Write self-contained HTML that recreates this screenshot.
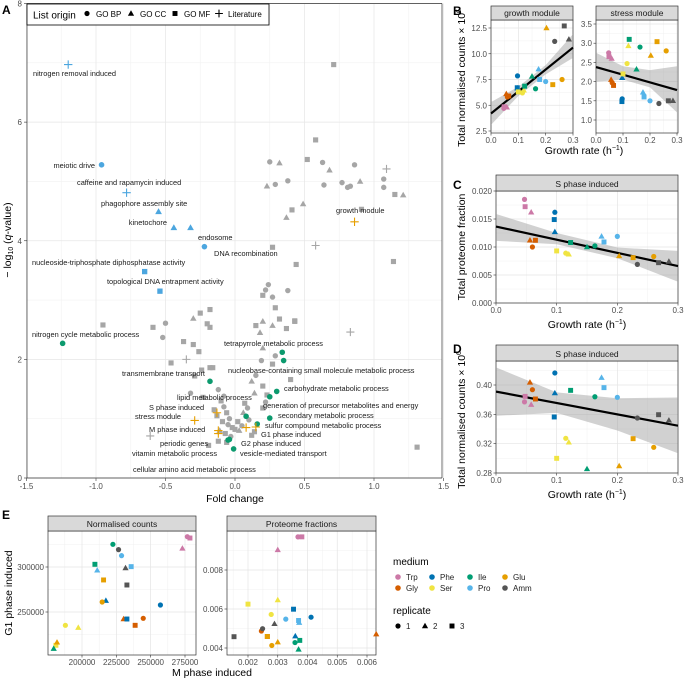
<!DOCTYPE html>
<html><head><meta charset="utf-8">
<style>
html,body{margin:0;padding:0;background:#fff;}
svg{display:block;font-family:"Liberation Sans",sans-serif;}
</style></head>
<body>
<svg id="fig" width="685" height="682" viewBox="0 0 685 682" xmlns="http://www.w3.org/2000/svg">
<text x="2" y="14" font-size="12" font-weight="bold">A</text>
<text x="453" y="15" font-size="12" font-weight="bold">B</text>
<text x="453" y="189" font-size="12" font-weight="bold">C</text>
<text x="453" y="353" font-size="12" font-weight="bold">D</text>
<text x="2" y="519" font-size="12" font-weight="bold">E</text>
<g id="root"></g>
</svg>
<script>
// ---------- Panel A data ----------
const gFC=[0.71,0.58,0.52,0.25,0.32,0.63,0.68,0.86,1.09,0.23,0.29,0.38,0.64,0.77,0.83,0.81,0.90,1.07,1.07,1.15,1.21,0.49,0.41,0.37,0.91,0.58,0.27,0.44,1.14,0.24,0.22,0.20,0.27,0.38,0.29,0.32,0.43,0.20,0.15,0.27,0.83,-0.95,-0.59,-0.50,-0.30,-0.25,-0.18,-0.20,-0.18,-0.52,-0.37,-0.30,-0.26,-0.46,-0.35,-0.29,-0.24,-0.18,-0.16,-0.12,-0.32,-0.23,-0.19,-0.61,0.19,0.29,0.27,0.12,0.15,0.40,0.20,0.14,0.20,0.09,0.07,0.03,0.12,1.31,0.18,0.20,0.37,0.43,-0.10,-0.08,-0.06,-0.04,-0.13,-0.09,-0.05,-0.02,-0.11,-0.07,-0.03,0.00,-0.15,-0.08,0.02,0.05,-0.12,-0.06,0.10,0.14,0.06,0.23,0.22];
const gQ=[6.97,5.70,5.37,5.33,5.31,5.32,5.19,5.28,5.21,4.92,4.95,5.01,4.94,4.98,4.92,4.90,5.00,5.04,4.90,4.78,4.77,4.62,4.52,4.39,4.53,3.92,3.89,3.60,3.65,3.26,3.17,3.08,3.05,3.16,2.87,2.68,2.65,2.64,2.57,2.57,2.46,2.58,2.54,2.61,2.69,2.78,2.84,2.60,2.54,2.37,2.30,2.25,2.13,1.94,2.00,1.72,1.82,1.86,1.86,1.49,1.43,1.36,0.55,0.71,1.98,2.06,1.92,1.63,1.73,1.66,1.55,1.43,1.18,1.18,1.26,0.80,0.72,0.52,2.45,2.19,2.52,2.64,1.30,1.20,1.10,1.00,1.05,0.95,0.90,0.85,0.80,0.75,0.70,0.82,1.15,1.38,0.95,0.88,0.62,0.60,0.98,0.78,1.10,1.40,1.28];
const gShape=["s","s","s","c","t","c","t","c","p","t","c","c","c","c","c","c","t","c","c","s","t","t","s","t","s","p","s","s","s","c","c","s","c","c","s","s","s","t","s","t","p","s","s","c","t","s","s","s","s","c","s","s","s","s","p","s","s","s","s","c","c","s","s","p","c","c","s","t","c","s","s","t","s","c","s","t","s","s","t","t","s","s","s","c","s","c","s","s","c","s","t","s","c","s","s","c","s","c","s","s","c","s","t","s","c"];
const hlNames=["nitrogen  removal  induced","meiotic drive","caffeine  and  rapamycin  induced","phagophore assembly site","kinetochore","endosome","DNA recombination","nucleoside-triphosphate diphosphatase activity","topological DNA entrapment activity","growth  module","nitrogen cycle metabolic process","tetrapyrrole metabolic process","nucleobase-containing small molecule metabolic process","transmembrane transport","carbohydrate metabolic process","generation of precursor metabolites and energy","lipid metabolic process","secondary metabolic process","S  phase  induced","stress  module","sulfur compound metabolic process","M  phase  induced","G1  phase  induced","periodic  genes","G2  phase  induced","vitamin metabolic process","vesicle-mediated transport","cellular amino acid metabolic process"];
const hlFC=[-1.20,-0.96,-0.78,-0.55,-0.44,-0.32,-0.22,-0.65,-0.54,0.86,-1.24,0.34,0.35,-0.18,0.30,0.25,0.08,0.25,-0.13,-0.29,0.16,-0.12,0.15,-0.12,0.08,-0.05,-0.04,-0.01];
const hlQ=[6.97,5.28,4.81,4.49,4.22,4.22,3.90,3.48,3.15,4.32,2.27,2.12,1.98,1.63,1.46,1.37,1.04,1.01,1.10,0.97,0.91,0.80,0.86,0.75,0.85,0.64,0.65,0.49];
const hlShape=["p","c","p","t","t","t","c","s","s","p","c","c","c","c","c","c","c","c","p","p","c","p","p","p","p","c","c","c"];
const hlGroup=["b","b","b","b","b","b","b","b","b","o","g","g","g","g","g","g","g","g","o","o","g","o","o","o","o","g","g","g"];
// label layout (pixels)
const lblX=[33,95,77,101,167,198,214,32,107,336,32,224,228,122,284,263,177,278,149,135,265,149,261,160,241,132,240,133];
const lblY=[76,168,185,206,225,240,256,265,284,213,337,346,373,376,391,408,400,418,410,419,428,432,437,446,446,456,456,472];
const lblAnchor=["start","end","start","start","end","start","start","start","start","start","start","start","start","start","start","start","start","start","start","start","start","start","start","start","start","start","start","start"];

// ---------- Panel B-E data (medium, replicate, growth rate) ----------
const colors={Trp:"#CC79A7",Gly:"#D55E00",Phe:"#0072B2",Ser:"#F0E442",Ile:"#009E73",Pro:"#56B4E9",Glu:"#E69F00",Amm:"#555555"};
const repShape={1:"c",2:"t",3:"s"};
const bMedium=["Trp","Trp","Trp","Gly","Gly","Gly","Phe","Phe","Phe","Ser","Ser","Ser","Ile","Ile","Ile","Pro","Pro","Pro","Glu","Glu","Glu","Amm","Amm","Amm"];
const bRep=[1,2,3,1,2,3,1,2,3,1,2,3,1,2,3,1,2,3,1,2,3,1,2,3];
const growthRate=[0.047,0.058,0.048,0.060,0.056,0.065,0.097,0.097,0.096,0.115,0.120,0.100,0.163,0.150,0.123,0.200,0.174,0.178,0.260,0.203,0.226,0.233,0.285,0.268];
const growthCounts=[4.7,4.8,4.85,5.8,6.1,5.9,7.85,6.65,6.7,6.2,6.45,6.3,6.6,7.8,6.85,7.3,8.5,7.5,7.5,12.5,7.0,11.2,11.4,12.7];
const stressCounts=[2.75,2.6,2.65,1.97,2.05,1.9,1.55,2.1,1.48,2.47,2.93,2.2,2.9,2.32,3.1,1.5,1.72,1.6,2.8,2.68,3.04,1.43,1.5,1.5];
const sPhaseFraction=[0.0185,0.0162,0.0172,0.0100,0.0112,0.0112,0.0162,0.0127,0.0149,0.0089,0.0087,0.0093,0.0102,0.0100,0.0108,0.0119,0.0119,0.0109,0.0083,0.0084,0.0081,0.0069,0.0074,0.0072];
const sPhaseCounts=[0.377,0.3732,0.3845,0.3936,0.4036,0.3809,0.4164,0.389,0.3564,0.3273,0.3218,0.300,0.384,0.2855,0.3927,0.3832,0.410,0.3964,0.315,0.2895,0.3268,0.355,0.3518,0.3595];
const mPhaseCounts=[276700,273100,278600,244600,230300,238700,257100,217400,232700,187900,197300,181000,222500,179400,209400,228800,211100,235800,214700,181800,215700,226600,231700,232700];
const g1PhaseCounts=[333700,320700,332200,243000,242200,235200,257800,262600,242200,235200,232600,213000,325200,209300,303000,312600,296300,300400,261100,216300,285600,319300,298900,280000];
const mPhaseFrac=[0.00368,0.00300,0.00381,0.00245,0.00631,0.00265,0.00412,0.00359,0.00353,0.00278,0.00300,0.00200,0.00358,0.00370,0.00374,0.00327,0.00372,0.00370,0.00280,0.00300,0.00265,0.00249,0.00289,0.00153];
const g1PhaseFrac=[0.0097,0.00903,0.0097,0.00487,0.00471,0.00459,0.00558,0.00461,0.00599,0.00572,0.00646,0.00625,0.00428,0.00393,0.00439,0.00548,0.0053,0.00541,0.00413,0.0043,0.00459,0.00499,0.00524,0.00458];
// regression fits and confidence bands at x = 0, .1, .2, .3
const bandX=[0,0.1,0.2,0.3];
const growthFit=[4.2,10.6];
const growthLo=[3.1,5.9,8.0,9.6];
const growthHi=[5.3,6.8,8.9,11.9];
const stressFit=[2.38,1.78];
const stressLo=[2.0,2.05,1.85,1.2];
const stressHi=[2.75,2.4,2.3,2.4];
const sFracFit=[0.01365,0.0066];
const sFracLo=[0.0111,0.0105,0.0080,0.0038];
const sFracHi=[0.0159,0.0125,0.0099,0.0093];
const sCntFit=[0.391,0.3445];
const sCntLo=[0.358,0.362,0.338,0.307];
const sCntHi=[0.424,0.390,0.382,0.383];
const tickA_x=["-1.5","-1.0","-0.5","0.0","0.5","1.0","1.5"];
const tickA_y=["0","2","4","6","8"];

const NS="http://www.w3.org/2000/svg";
const root=document.getElementById("root");
function mk(tag,attrs,parent){const e=document.createElementNS(NS,tag);for(const k in attrs)e.setAttribute(k,attrs[k]);(parent||root).appendChild(e);return e;}
function lin(d0,d1,p0,p1){return v=>p0+(v-d0)*(p1-p0)/(d1-d0);}
function shape(g,s,x,y,col,r){
  let e;
  if(s==="c") e=mk("circle",{cx:x,cy:y,r:r,fill:col},g);
  else if(s==="t") e=mk("polygon",{points:`${x},${y-r*1.25} ${x-r*1.2},${y+r*0.85} ${x+r*1.2},${y+r*0.85}`,fill:col},g);
  else if(s==="s") e=mk("rect",{x:x-r*0.95,y:y-r*0.95,width:r*1.9,height:r*1.9,fill:col},g);
  else {e=mk("path",{d:`M${x-r*1.5},${y}H${x+r*1.5}M${x},${y-r*1.5}V${y+r*1.5}`,stroke:col,"stroke-width":1.1,fill:"none"},g);}
  return e;
}
function txt(g,x,y,s,size,anchor,fill){const t=mk("text",{x:x,y:y,"font-size":size,"text-anchor":anchor||"start",fill:fill||"#000"},g);t.textContent=s;return t;}

function panel(name,box,strip,sx,sy,xt,yt,xlab,ylab,xminor,yminor){
  const g=mk("g",{});
  
  
  mk("rect",{x:box[0],y:box[1],width:box[2]-box[0],height:box[3]-box[1],fill:"#fff"},g);
  (xminor||[]).forEach(v=>{const p=sx(v);if(p>box[0]&&p<box[2])mk("line",{x1:p,x2:p,y1:box[1],y2:box[3],stroke:"#f0f0f0","stroke-width":0.5},g);});
  (yminor||[]).forEach(v=>{const p=sy(v);if(p>box[1]&&p<box[3])mk("line",{x1:box[0],x2:box[2],y1:p,y2:p,stroke:"#f0f0f0","stroke-width":0.5},g);});
  xt.forEach((v,i)=>{const p=sx(v);mk("line",{x1:p,x2:p,y1:box[1],y2:box[3],stroke:"#e4e4e4","stroke-width":0.7},g);
    mk("line",{x1:p,x2:p,y1:box[3],y2:box[3]+2.5,stroke:"#333","stroke-width":0.6},g);
    const t=txt(g,p,box[3]+10,xlab[i],8,"middle","#4d4d4d");});
  yt.forEach((v,i)=>{const p=sy(v);mk("line",{x1:box[0],x2:box[2],y1:p,y2:p,stroke:"#e4e4e4","stroke-width":0.7},g);
    mk("line",{x1:box[0]-2.5,x2:box[0],y1:p,y2:p,stroke:"#333","stroke-width":0.6},g);
    const t=txt(g,box[0]-4,p+3,ylab[i],8,"end","#4d4d4d");});
  mk("rect",{x:box[0],y:box[1],width:box[2]-box[0],height:box[3]-box[1],fill:"none",stroke:"#333","stroke-width":0.7},g);
  if(strip){const s=mk("rect",{x:box[0],y:strip[1],width:box[2]-box[0],height:box[1]-strip[1],fill:"#d9d9d9",stroke:"#333","stroke-width":0.7},g);
    
    const t=txt(g,(box[0]+box[2])/2,box[1]-4,strip[0],8.5,"middle","#1a1a1a");}
  return g;
}
function band(g,sx,sy,lo,hi,fit){
  const pts=bandX.map((x,i)=>`${sx(x)},${sy(hi[i])}`).concat(bandX.slice().reverse().map((x,i)=>`${sx(x)},${sy(lo[bandX.length-1-i])}`));
  const b=mk("polygon",{points:pts.join(" "),fill:"#999",opacity:0.45},g);
  
  
  const l=mk("line",{x1:sx(0),y1:sy(fit[0]),x2:sx(0.3),y2:sy(fit[1]),stroke:"#000","stroke-width":2.2},g);
  
  
}
function pts(g,sx,sy,xs,ys,r){
  xs.forEach((x,i)=>{const e=shape(g,repShape[bRep[i]],sx(x),sy(ys[i]),colors[bMedium[i]],r||2.6);
    
    });
}
const seq=(a,b,s)=>{const r=[];for(let v=a;v<=b+1e-9;v+=s)r.push(+v.toFixed(6));return r;};

// ---------- Panel A ----------
{
  const sx=lin(-1.5,1.5,26.5,443.5), sy=lin(0,8,478,3.5);
  const g=mk("g",{});
  
  
  seq(-1.25,1.25,0.5).forEach(v=>mk("line",{x1:sx(v),x2:sx(v),y1:3.5,y2:478,stroke:"#f2f2f2","stroke-width":0.6},g));
  [1,3,5,7].forEach(v=>mk("line",{x1:27,x2:442,y1:sy(v),y2:sy(v),stroke:"#f2f2f2","stroke-width":0.6},g));
  tickA_x.forEach(s=>{const p=sx(+s);mk("line",{x1:p,x2:p,y1:3.5,y2:478,stroke:"#e6e6e6","stroke-width":0.7},g);
    mk("line",{x1:p,x2:p,y1:478,y2:481,stroke:"#333","stroke-width":0.6},g);
    const t=txt(g,p,489,s,8,"middle","#4d4d4d");});
  tickA_y.forEach(s=>{const p=sy(+s);mk("line",{x1:27,x2:442,y1:p,y2:p,stroke:"#e6e6e6","stroke-width":0.7},g);
    mk("line",{x1:24,x2:27,y1:p,y2:p,stroke:"#333","stroke-width":0.6},g);
    const t=txt(g,22,p+3,s,8,"end","#4d4d4d");});
  mk("line",{x1:27,x2:442,y1:3.5,y2:3.5,stroke:"#333","stroke-width":0.7},g);
  mk("line",{x1:442,x2:442,y1:3.5,y2:478,stroke:"#333","stroke-width":0.7},g);
  mk("line",{x1:27,x2:27,y1:3.5,y2:478,stroke:"#333","stroke-width":0.7},g);
  mk("line",{x1:27,x2:442,y1:478,y2:478,stroke:"#333","stroke-width":0.7},g);
  gFC.forEach((f,i)=>{const e=shape(g,gShape[i],sx(f),sy(gQ[i]),"#a6a6a6",2.7);
    
    });
  const hc={b:"#4ca6df",g:"#0c9a6e",o:"#E69F00"};
  hlFC.forEach((f,i)=>{const e=shape(g,hlShape[i],sx(f),sy(hlQ[i]),hc[hlGroup[i]],2.8);
    
    
    const t=txt(g,lblX[i],lblY[i],hlNames[i],7.4,lblAnchor[i],"#1a1a1a");
    
    });
  const xt=txt(g,235,502,"Fold change",10.5,"middle","#000");
  
  
  const yt=mk("text",{x:0,y:0,"font-size":10.5,"text-anchor":"middle",transform:"translate(11,240) rotate(-90)"},g);
  yt.innerHTML='− log<tspan font-size="7" dy="2">10</tspan><tspan dy="-2"> (</tspan><tspan font-style="italic">q</tspan>-value)';
  
  
  // legend
  const lg=mk("g",{},g);
  
  
  mk("rect",{x:27,y:4,width:242,height:21,fill:"#fff",stroke:"#000","stroke-width":0.8},lg);
  txt(lg,33,18.5,"List origin",10,"start","#000");
  const lgS=["c","t","s","p"], lgT=["GO BP","GO CC","GO MF","Literature"], lgX=[87,131,175,219];
  lgS.forEach((s,i)=>{const e=shape(lg,s,lgX[i],13.5,"#000",2.6);
    
    
    txt(lg,lgX[i]+9,17,lgT[i],8,"start","#000");});
}

// ---------- Panel B ----------
{
  const gr=[0,0.1,0.2,0.3], grl=["0.0","0.1","0.2","0.3"];
  const sx=lin(0,0.3,491,573), sy=lin(2.5,12.5,131,28);
  const g=panel("growth-module-panel",[491,20,573,133],["growth module",6],sx,sy,gr,[2.5,5,7.5,10,12.5],grl,["2.5","5.0","7.5","10.0","12.5"],[0.05,0.15,0.25],[3.75,6.25,8.75,11.25]);
  band(g,sx,sy,growthLo,growthHi,growthFit);
  pts(g,sx,sy,growthRate,growthCounts);
  const sx2=lin(0,0.3,596,677), sy2=lin(1,3.5,120,24);
  const g2=panel("stress-module-panel",[596,20,678,133],["stress module",6],sx2,sy2,gr,[1,1.5,2,2.5,3,3.5],grl,["1.0","1.5","2.0","2.5","3.0","3.5"],[0.05,0.15,0.25],[1.25,1.75,2.25,2.75,3.25]);
  band(g2,sx2,sy2,stressLo,stressHi,stressFit);
  pts(g2,sx2,sy2,growthRate,stressCounts);
  const t=mk("text",{x:584,y:154,"font-size":10.5,"text-anchor":"middle"});
  t.innerHTML='Growth rate (h<tspan font-size="7" dy="-4">−1</tspan><tspan dy="4">)</tspan>';
  
  
  const y=mk("text",{x:0,y:0,"font-size":10.5,"text-anchor":"middle",transform:"translate(465,78) rotate(-90)"});
  y.innerHTML='Total normalised counts × 10<tspan font-size="7" dy="-4">6</tspan>';
  
  
}
// ---------- Panel C ----------
{
  const sx=lin(0,0.3,496,678), sy=lin(0,0.02,303,191);
  const g=panel("s-phase-fraction-panel",[496,191,678,303],["S phase induced",175],sx,sy,[0,0.1,0.2,0.3],[0,0.005,0.01,0.015,0.02],["0.0","0.1","0.2","0.3"],["0.000","0.005","0.010","0.015","0.020"],[0.05,0.15,0.25],[0.0025,0.0075,0.0125,0.0175]);
  band(g,sx,sy,sFracLo,sFracHi,sFracFit);
  pts(g,sx,sy,growthRate,sPhaseFraction);
  const t=mk("text",{x:587,y:328,"font-size":10.5,"text-anchor":"middle"});
  t.innerHTML='Growth rate (h<tspan font-size="7" dy="-4">−1</tspan><tspan dy="4">)</tspan>';
  
  
  const y=txt(root,0,0,"Total proteome fraction",10.5,"middle");
  y.setAttribute("transform","translate(465,247) rotate(-90)");
  
  
}
// ---------- Panel D ----------
{
  const sx=lin(0,0.3,496,678), sy=lin(0.28,0.40,473,385);
  const g=panel("s-phase-counts-panel",[496,361,678,473],["S phase induced",345],sx,sy,[0,0.1,0.2,0.3],[0.28,0.32,0.36,0.40],["0.0","0.1","0.2","0.3"],["0.28","0.32","0.36","0.40"],[0.05,0.15,0.25],[0.30,0.34,0.38,0.42]);
  const cg=mk("g",{"clip-path":"url(#clipD)"},g);
  const cp=mk("clipPath",{id:"clipD"},g);mk("rect",{x:496,y:361,width:182,height:112},cp);
  band(cg,sx,sy,sCntLo,sCntHi,sCntFit);
  pts(g,sx,sy,growthRate,sPhaseCounts);
  const t=mk("text",{x:587,y:498,"font-size":10.5,"text-anchor":"middle"});
  t.innerHTML='Growth rate (h<tspan font-size="7" dy="-4">−1</tspan><tspan dy="4">)</tspan>';
  
  
  const y=mk("text",{x:0,y:0,"font-size":10.5,"text-anchor":"middle",transform:"translate(465,420) rotate(-90)"});
  y.innerHTML='Total normalised counts × 10<tspan font-size="7" dy="-4">6</tspan>';
  
  
}
// ---------- Panel E ----------
{
  const sx=lin(200000,275000,82,185), sy=lin(250000,300000,612,567);
  const g=panel("normalised-counts-panel",[48,531,196,655],["Normalised counts",516],sx,sy,[200000,225000,250000,275000],[250000,300000],["200000","225000","250000","275000"],["250000","300000"],[187500,212500,237500,262500],[225000,275000,325000]);
  pts(g,sx,sy,mPhaseCounts,g1PhaseCounts);
  const sx2=lin(0.002,0.006,248,367), sy2=lin(0.004,0.008,648,570);
  const g2=panel("proteome-fractions-panel",[227,531,376,655],["Proteome fractions",516],sx2,sy2,[0.002,0.003,0.004,0.005,0.006],[0.004,0.006,0.008],["0.002","0.003","0.004","0.005","0.006"],["0.004","0.006","0.008"],[0.0015,0.0025,0.0035,0.0045,0.0055],[0.005,0.007,0.009]);
  pts(g2,sx2,sy2,mPhaseFrac,g1PhaseFrac);
  const t=txt(root,212,676,"M phase induced",10.5,"middle");
  
  
  const y=txt(root,0,0,"G1 phase induced",10.5,"middle");
  y.setAttribute("transform","translate(12,593) rotate(-90)");
  
  
}
// ---------- Legend ----------
{
  const g=mk("g",{});
  
  
  txt(g,393,565,"medium",10,"start");
  const med=["Trp","Phe","Ile","Glu","Gly","Ser","Pro","Amm"];
  const colX=[398,432,470,505];
  med.forEach((m,i)=>{const x=colX[i%4], y=i<4?577:588;
    const e=mk("circle",{cx:x,cy:y,r:2.8,fill:colors[m]},g);
    
    
    txt(g,x+8,y+3,m,8,"start","#222");});
  txt(g,393,614,"replicate",10,"start");
  [1,2,3].forEach((r,i)=>{const x=398+i*27;
    const e=shape(g,repShape[r],x,626,"#000",2.6);
    
    
    txt(g,x+8,629,String(r),8,"start","#222");});
}
</script>
</body></html>
